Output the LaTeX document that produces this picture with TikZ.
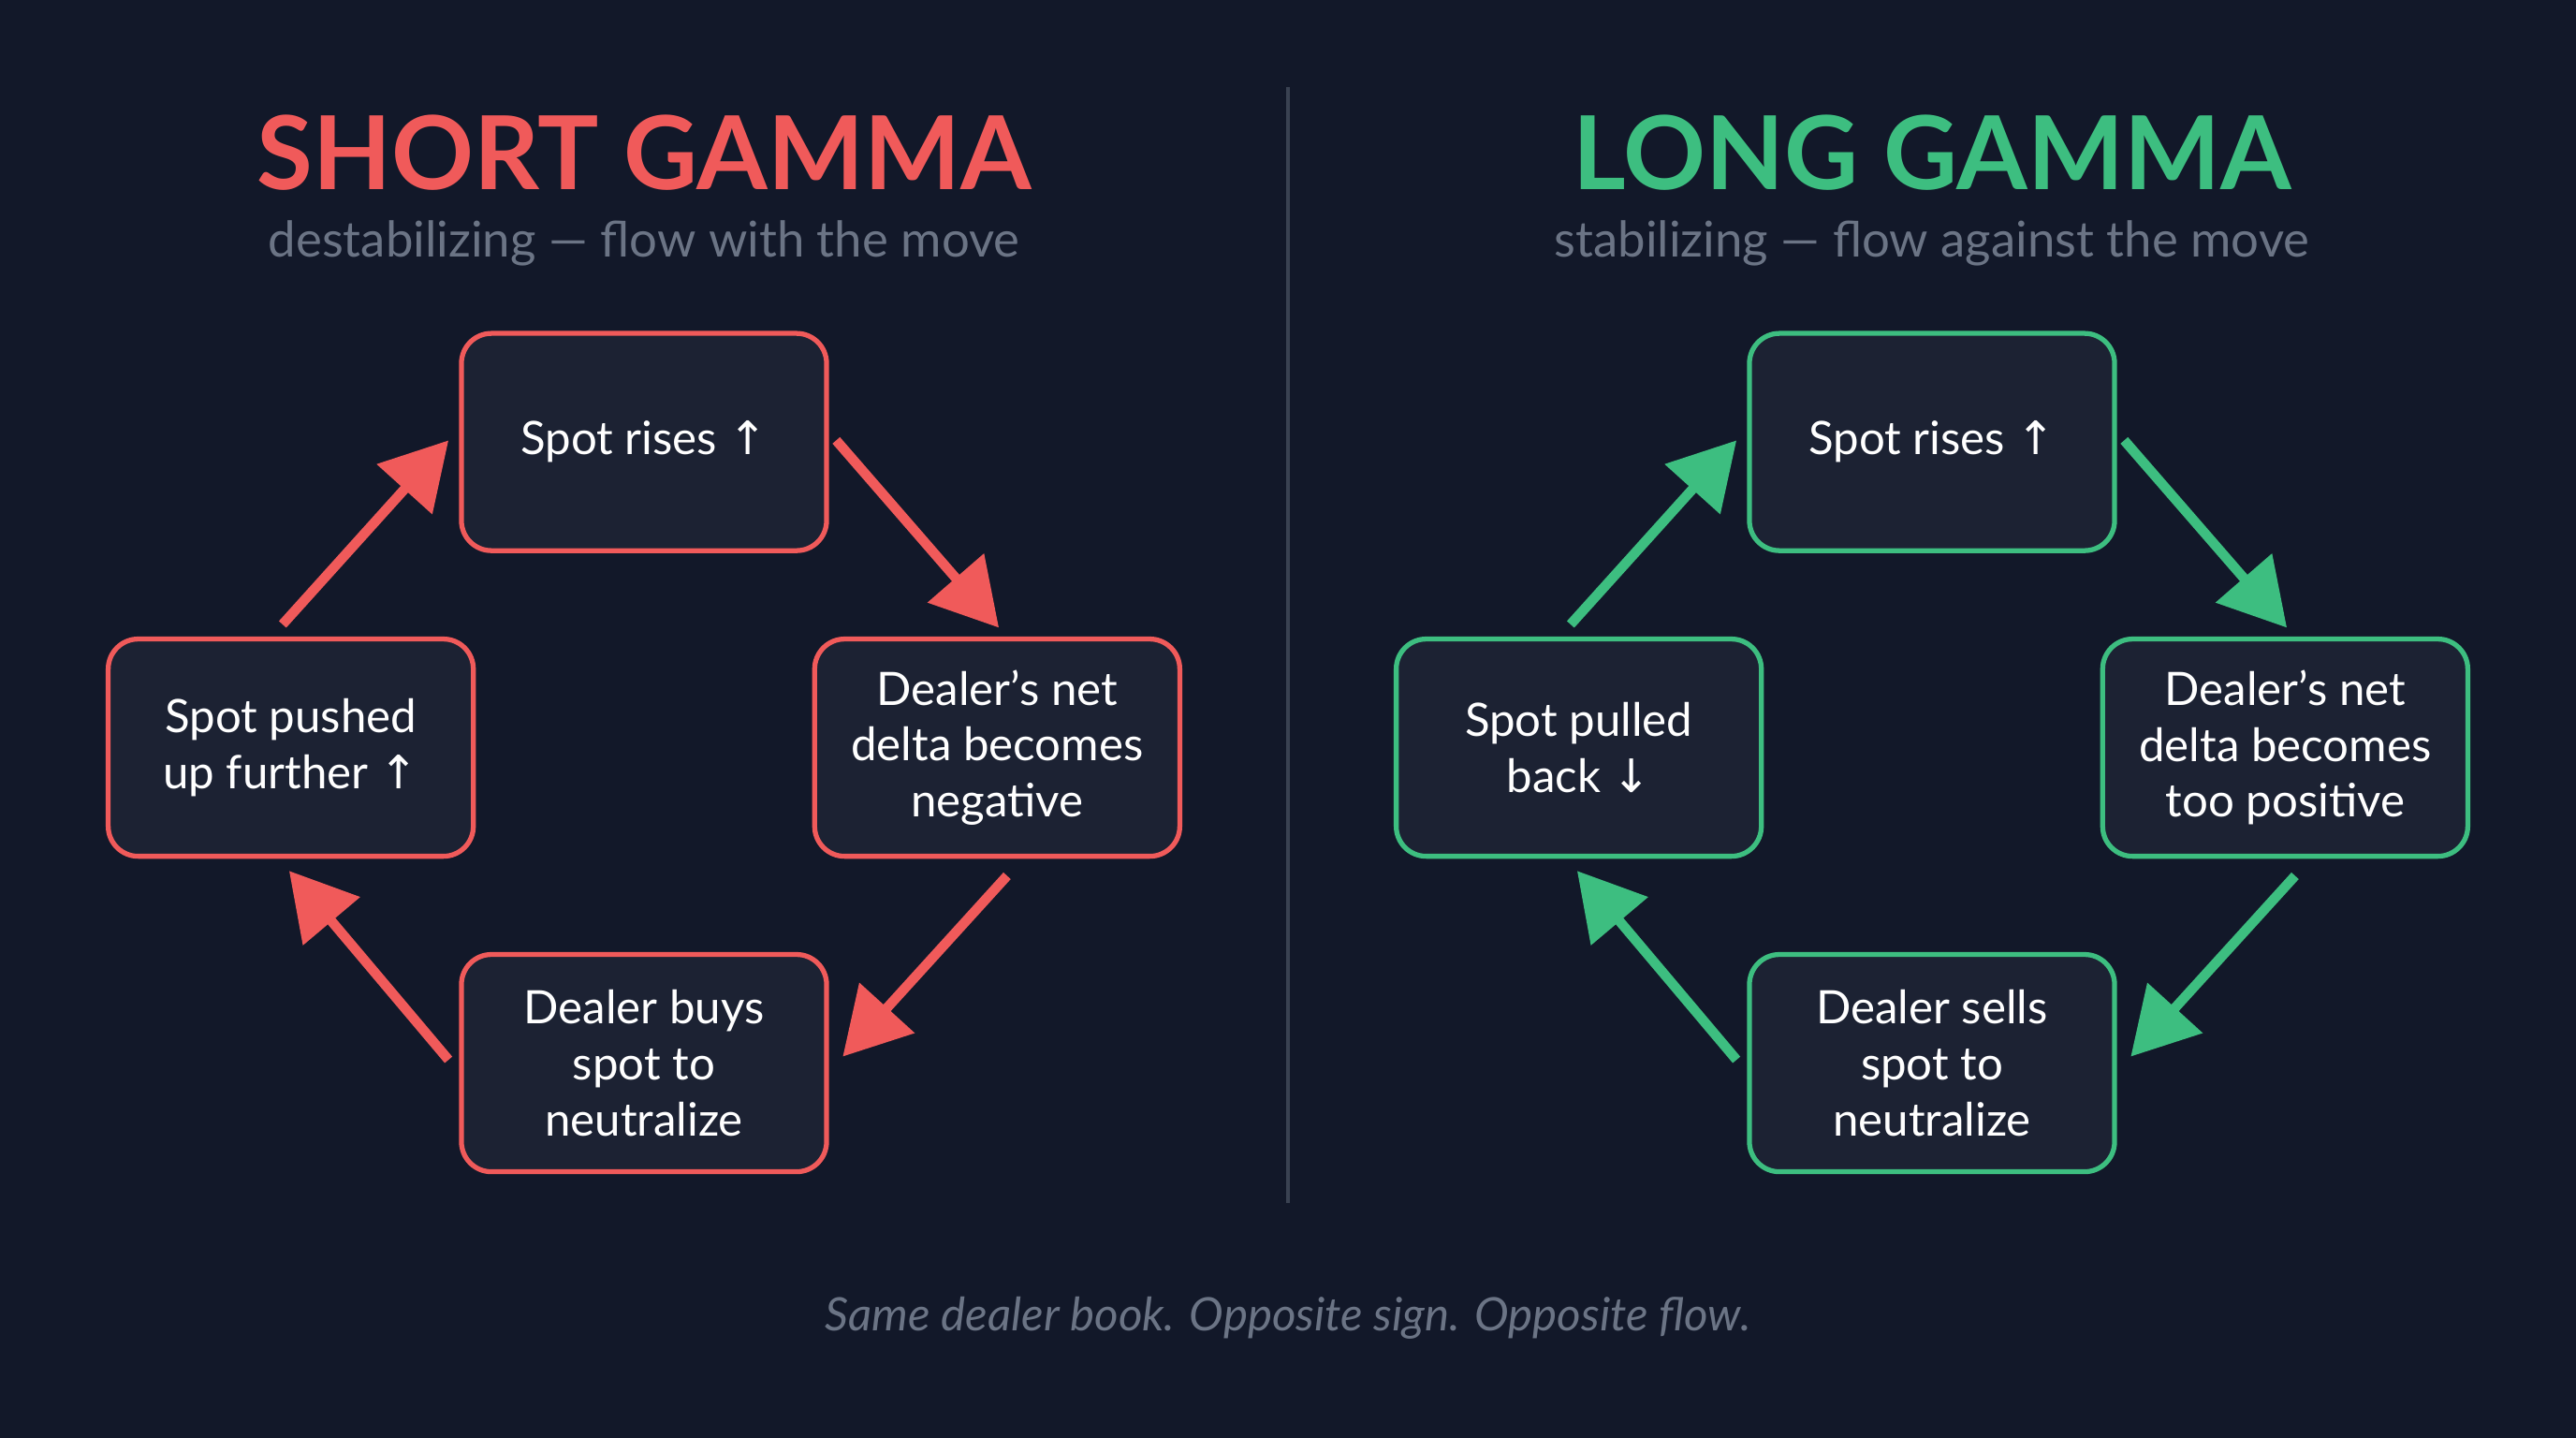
\documentclass[tikz,border=0pt]{standalone}
\usepackage{fontspec}
\setmainfont{Lato}
\newfontfamily\arr{DejaVu Sans}
\usetikzlibrary{arrows.meta}
\definecolor{bg}{HTML}{121829}
\definecolor{boxbg}{HTML}{1C2233}
\definecolor{red}{HTML}{F05A5A}
\definecolor{grn}{HTML}{3DBE80}
\definecolor{sub}{HTML}{6B7485}
\definecolor{divc}{HTML}{3A4252}
\begin{document}
\begin{tikzpicture}[x=0.01755cm,y=-0.01755cm,
  box/.style={draw=#1,line width=1.5pt,fill=boxbg,rounded corners=0.32cm,minimum width=3.9cm,minimum height=2.32cm,align=center,text=white,font=\fontsize{14}{17}\selectfont},
  flow/.style={draw=#1,line width=3pt,-{Triangle[length=20pt,width=22pt]},color=#1},
  title/.style={font=\fontsize{31}{36}\selectfont\bfseries},
  subt/.style={text=sub,font=\fontsize{15}{18}\selectfont}]
\fill[bg] (0,0) rectangle (1568,875);
\useasboundingbox (0,0) rectangle (1568,875);
\draw[divc,line width=1.2pt] (784,53) -- (784,732);
% left
\node[title,text=red] (tl) at (392,93) {SHORT GAMMA};
\node[subt] (sl) at (392,148) {destabilizing — flow with the move};
\node[box=red] (a1) at (392,269) {Spot rises {\arr↑}};
\node[box=red] (a2) at (607,455) {Dealer’s net\\delta becomes\\negative};
\node[box=red] (a3) at (392,647) {Dealer buys\\spot to\\neutralize};
\node[box=red] (a4) at (177,455) {Spot pushed\\up further {\arr↑}};
\coordinate (p1) at (509,268); \coordinate (q1) at (608,382);
\coordinate (p2) at (613,533); \coordinate (q2) at (513,643);
\coordinate (p3) at (273,645); \coordinate (q3) at (176,530);
\coordinate (p4) at (172,380); \coordinate (q4) at (273,268);
\draw[flow=red] (p1) -- (q1);
\draw[flow=red] (p2) -- (q2);
\draw[flow=red] (p3) -- (q3);
\draw[flow=red] (p4) -- (q4);
% right
\node[title,text=grn] (tr) at (1176,93) {LONG GAMMA};
\node[subt] (sr) at (1176,148) {stabilizing — flow against the move};
\node[box=grn] (b1) at (1176,269) {Spot rises {\arr↑}};
\node[box=grn] (b2) at (1391,455) {Dealer’s net\\delta becomes\\too positive};
\node[box=grn] (b3) at (1176,647) {Dealer sells\\spot to\\neutralize};
\node[box=grn] (b4) at (961,455) {Spot pulled\\back {\arr↓}};
\coordinate (r1) at (1293,268); \coordinate (s1) at (1392,382);
\coordinate (r2) at (1397,533); \coordinate (s2) at (1297,643);
\coordinate (r3) at (1057,645); \coordinate (s3) at (960,530);
\coordinate (r4) at (956,380); \coordinate (s4) at (1057,268);
\draw[flow=grn] (r1) -- (s1);
\draw[flow=grn] (r2) -- (s2);
\draw[flow=grn] (r3) -- (s3);
\draw[flow=grn] (r4) -- (s4);
\node[text=sub,font=\fontsize{14}{17}\selectfont\itshape] (cap) at (784,802) {Same dealer book. Opposite sign. Opposite flow.};
\end{tikzpicture}
\end{document}
